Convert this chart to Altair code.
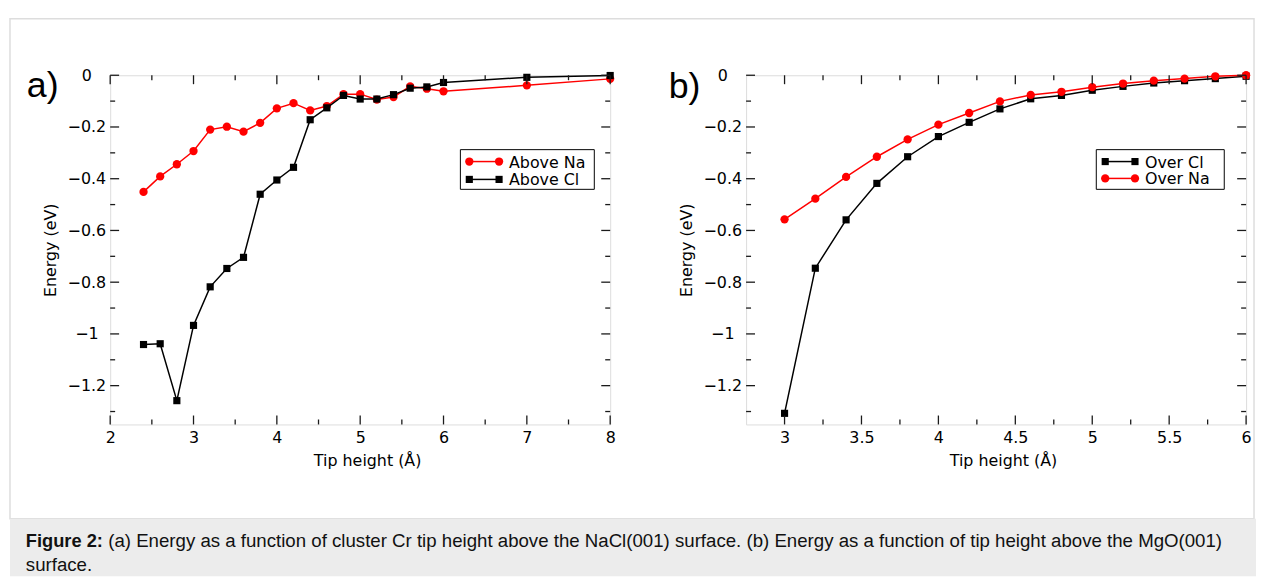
import altair as alt
import pandas as pd

# ---------------- data ----------------
# (a) NaCl(001): energy vs tip height
a_x = [2.4, 2.6, 2.8, 3.0, 3.2, 3.4, 3.6, 3.8, 4.0, 4.2, 4.4, 4.6, 4.8, 5.0, 5.2, 5.4, 5.6, 5.8, 6.0, 7.0, 8.0]
a_above_na = [-0.451, -0.391, -0.344, -0.293, -0.210, -0.199, -0.218, -0.184, -0.128, -0.108, -0.136,
              -0.119, -0.073, -0.073, -0.094, -0.084, -0.043, -0.052, -0.062, -0.039, -0.014]
a_above_cl = [-1.041, -1.038, -1.258, -0.967, -0.818, -0.747, -0.704, -0.460, -0.405, -0.356, -0.172,
              -0.126, -0.078, -0.092, -0.092, -0.075, -0.050, -0.045, -0.028, -0.008, -0.001]

# (b) MgO(001): energy vs tip height
b_x = [3.0, 3.2, 3.4, 3.6, 3.8, 4.0, 4.2, 4.4, 4.6, 4.8, 5.0, 5.2, 5.4, 5.6, 5.8, 6.0]
b_over_cl = [-1.307, -0.746, -0.559, -0.418, -0.315, -0.237, -0.182, -0.130, -0.091, -0.078,
             -0.058, -0.043, -0.030, -0.021, -0.013, -0.004]
b_over_na = [-0.557, -0.477, -0.393, -0.315, -0.248, -0.191, -0.146, -0.101, -0.076, -0.064,
             -0.046, -0.032, -0.021, -0.013, -0.004, 0.0]

a_labels = ["Above Na", "Above Cl"]
b_labels = ["Over Cl", "Over Na"]

a_x_major = [2, 3, 4, 5, 6, 7, 8]
a_x_minor = [2.5, 3.5, 4.5, 5.5, 6.5, 7.5]
b_x_major = [3, 3.5, 4, 4.5, 5, 5.5, 6]
b_x_minor = [3.25, 3.75, 4.25, 4.75, 5.25, 5.75]
y_major = [0, -0.2, -0.4, -0.6, -0.8, -1.0, -1.2]
y_minor = [-0.1, -0.3, -0.5, -0.7, -0.9, -1.1, -1.3]

x_title = "Tip height (Å)"
y_title = "Energy (eV)"
caption_bold = "Figure 2:"
caption_line1 = ("(a) Energy as a function of cluster Cr tip height above the NaCl(001) surface. "
                 "(b) Energy as a function of tip height above the MgO(001)")
caption_line2 = "surface."

# ---------------- style ----------------
W, H = 504, 352
FONT = "DejaVu Sans"
CAP_FONT = "Liberation Sans"
AXC = "#1a1a1a"
RED = "#ff0000"
BLACK = "#000000"
one = pd.DataFrame({"k": [0]})


def make_axes(x_major):
    xa = alt.Axis(title=x_title, values=x_major, format="~g", ticks=False, domain=False, grid=False,
                  labelFont=FONT, labelFontSize=16, labelColor=BLACK, labelPadding=5,
                  labelFlush=False, labelOverlap=False,
                  titleFont=FONT, titleFontSize=16, titleFontWeight="normal", titleColor=BLACK,
                  titleX=W / 2 + 7, titleY=41, titleBaseline="alphabetic")
    ya = alt.Axis(title=y_title, values=y_major, format="~g", ticks=False, domain=False, grid=False,
                  labelFont=FONT, labelFontSize=16, labelColor=BLACK, labelPadding=24,
                  labelAlign="center", labelBaseline="middle", labelFlush=False, labelOverlap=False,
                  titleFont=FONT, titleFontSize=16, titleFontWeight="normal", titleColor=BLACK,
                  titleX=-60, titleY=H / 2, titleBaseline="middle")
    return xa, ya


def series_layers(xs, ys, xvals, yvals, color, shape, size, xa, ya):
    df = pd.DataFrame({"x": xvals, "y": yvals})
    enc = dict(x=alt.X("x:Q", scale=xs, axis=xa), y=alt.Y("y:Q", scale=ys, axis=ya))
    line = alt.Chart(df).mark_line(color=color, strokeWidth=1.5).encode(**enc)
    pts = alt.Chart(df).mark_point(filled=True, opacity=1, color=color, shape=shape, size=size).encode(**enc)
    return [line, pts]


def tick_layers(xs, ys, x_major, x_minor, xa, ya):
    out = []
    for vals, L in ((x_major, 9), (x_minor, 5)):
        df = pd.DataFrame({"v": vals})
        base = alt.Chart(df).mark_rule(color=AXC, strokeWidth=1.3)
        xe = alt.X("v:Q", scale=xs, axis=xa)
        out.append(base.encode(x=xe, y=alt.value(H), y2=alt.value(H - L)))
        out.append(base.encode(x=xe, y=alt.value(0), y2=alt.value(L)))
    for vals, L in ((y_major, 9), (y_minor, 5)):
        df = pd.DataFrame({"v": vals})
        base = alt.Chart(df).mark_rule(color=AXC, strokeWidth=1.3)
        ye = alt.Y("v:Q", scale=ys, axis=ya)
        out.append(base.encode(y=ye, x=alt.value(0), x2=alt.value(L)))
        out.append(base.encode(y=ye, x=alt.value(W), x2=alt.value(W - L)))
    return out


def legend_layers(x0, x1, y0, y1, lx0, lx1, tx, rows):
    out = [alt.Chart(one).mark_rect(fill="white", stroke=BLACK, strokeWidth=1).encode(
        x=alt.value(x0), x2=alt.value(x1), y=alt.value(y0), y2=alt.value(y1))]
    for (label, color, shape, size, yy) in rows:
        out.append(alt.Chart(one).mark_rule(color=color, strokeWidth=1.5).encode(
            x=alt.value(lx0), x2=alt.value(lx1), y=alt.value(yy)))
        for px in (lx0, lx1):
            out.append(alt.Chart(one).mark_point(filled=True, opacity=1, color=color, shape=shape,
                                                 size=size).encode(x=alt.value(px), y=alt.value(yy)))
        out.append(alt.Chart(one).mark_text(text=label, font=FONT, fontSize=16, color=BLACK,
                                            align="left", baseline="middle").encode(
            x=alt.value(tx), y=alt.value(yy + 1)))
    return out


# ---------------- panel (a) ----------------
xs_a = alt.Scale(domain=[2, 8], nice=False, zero=False)
ys = alt.Scale(domain=[-1.35, 0], nice=False, zero=False)
xa_a, ya_a = make_axes(a_x_major)

frame = alt.Chart(one).mark_rect(fill="transparent", stroke="#dddddd", strokeWidth=1.5).encode(
    x=alt.value(-101), x2=alt.value(1153), y=alt.value(-57), y2=alt.value(447))
cap_box = alt.Chart(one).mark_rect(fill="#ececec").encode(
    x=alt.value(-101), x2=alt.value(1155), y=alt.value(447), y2=alt.value(505))
cap1b = alt.Chart(one).mark_text(text=caption_bold, font=CAP_FONT, fontSize=18.4, fontWeight="bold",
                                 color="#111111", align="left", baseline="alphabetic").encode(
    x=alt.value(-85), y=alt.value(476))
cap1 = alt.Chart(one).mark_text(text=caption_line1, font=CAP_FONT, fontSize=18.8, color="#111111",
                                align="left", baseline="alphabetic").encode(
    x=alt.value(-2), y=alt.value(476))
cap2 = alt.Chart(one).mark_text(text=caption_line2, font=CAP_FONT, fontSize=18.8, color="#111111",
                                align="left", baseline="alphabetic").encode(
    x=alt.value(-85), y=alt.value(500))
tag_a = alt.Chart(one).mark_text(text="a)", font=CAP_FONT, fontSize=36, color=BLACK,
                                 align="left", baseline="alphabetic").encode(
    x=alt.value(-84), y=alt.value(22))

layers_a = [frame, cap_box, cap1b, cap1, cap2, tag_a]
layers_a += series_layers(xs_a, ys, a_x, a_above_na, RED, "circle", 70, xa_a, ya_a)
layers_a += series_layers(xs_a, ys, a_x, a_above_cl, BLACK, "square", 52, xa_a, ya_a)
layers_a += tick_layers(xs_a, ys, a_x_major, a_x_minor, xa_a, ya_a)
layers_a += legend_layers(353, 488, 75, 115, 362, 392, 402,
                          [(a_labels[0], RED, "circle", 70, 87), (a_labels[1], BLACK, "square", 52, 105)])
panel_a = alt.layer(*layers_a).properties(width=W, height=H)

# ---------------- panel (b) ----------------
xs_b = alt.Scale(domain=[2.75, 6], nice=False, zero=False)
xa_b, ya_b = make_axes(b_x_major)
tag_b = alt.Chart(one).mark_text(text="b)", font=CAP_FONT, fontSize=36, color=BLACK,
                                 align="left", baseline="alphabetic").encode(
    x=alt.value(-78), y=alt.value(23))
layers_b = [tag_b]
layers_b += series_layers(xs_b, ys, b_x, b_over_cl, BLACK, "square", 52, xa_b, ya_b)
layers_b += series_layers(xs_b, ys, b_x, b_over_na, RED, "circle", 70, xa_b, ya_b)
layers_b += tick_layers(xs_b, ys, b_x_major, b_x_minor, xa_b, ya_b)
layers_b += legend_layers(353, 482, 75, 115, 362, 392, 402,
                          [(b_labels[0], BLACK, "square", 52, 87), (b_labels[1], RED, "circle", 70, 104)])
panel_b = alt.layer(*layers_b).properties(width=W, height=H)

chart = alt.hconcat(panel_a, panel_b, spacing=137, bounds="flush").properties(
    padding={"left": 0, "top": 6.5, "right": 0, "bottom": 0}
).configure_view(stroke=AXC, strokeWidth=1.8).configure(background="white")

chart.save("out.html", embed_options={"renderer": "svg", "actions": False})
